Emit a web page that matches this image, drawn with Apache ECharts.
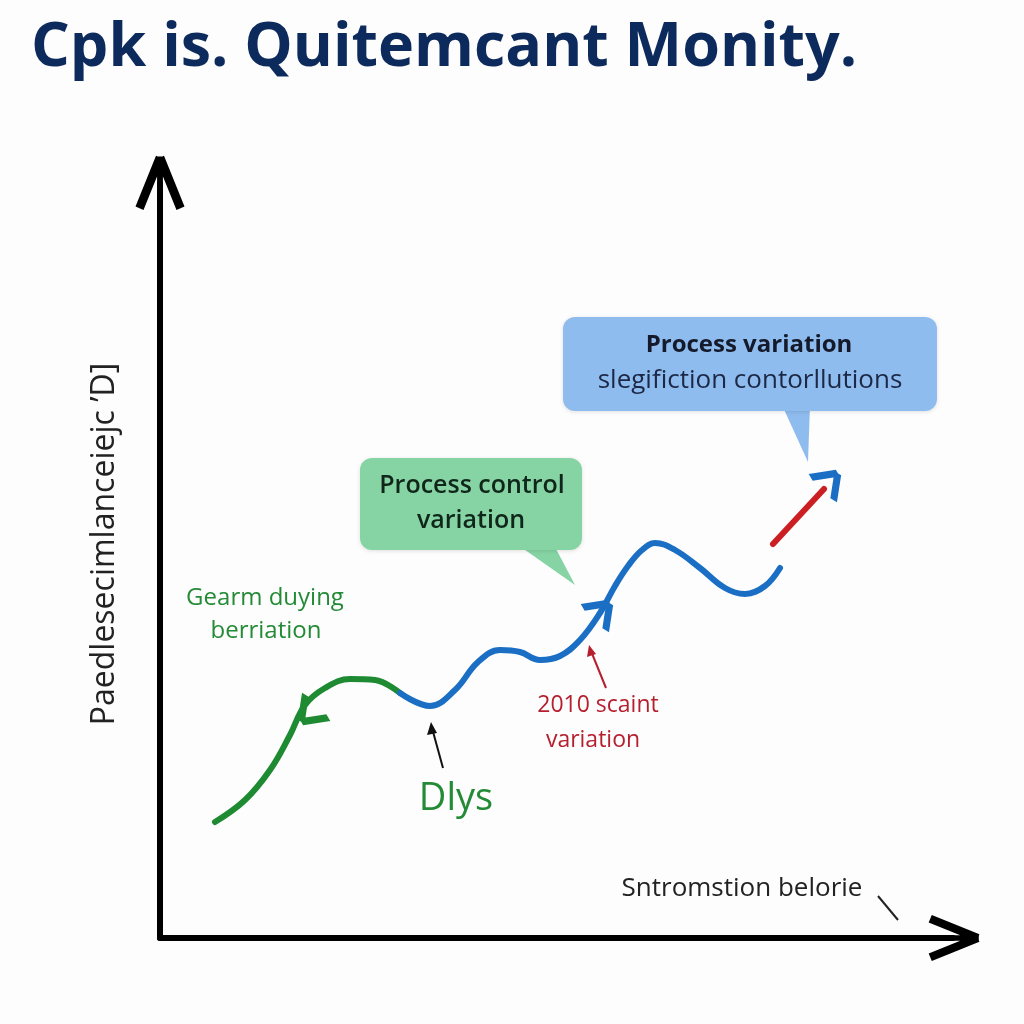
<!DOCTYPE html>
<html>
<head>
<meta charset="utf-8">
<script src="https://cdn.jsdelivr.net/npm/echarts@6/dist/echarts.min.js"></script>
<style>
  html, body { margin: 0; padding: 0; background: #fdfdfd; }
  #chart { width: 1024px; height: 1024px; }
</style>
</head>
<body>
<div id="chart"></div>
<script>
// values (x: along time axis, y: up the vertical axis)
const greenX = [55, 85, 110, 130, 145, 165, 190, 215, 240]
const greenY = [116, 138, 168, 203, 233, 250, 259, 258, 245]
const blueX = [240, 270, 295, 318, 340, 360, 380, 400, 420, 440, 455, 468, 482, 495, 515, 540, 565, 585, 605, 620]
const blueY = [245, 232, 248, 276, 288, 286, 278, 282, 298, 325, 352, 372, 388, 395, 388, 370, 350, 344, 352, 370]
const redX = [613, 664]
const redY = [394, 449]
// arrow heads along the curves: [x, y, rotation]
const heads = [
  [149, 224, 135, '#1e8a32'],
  [442, 327, -45, '#1a6ec4'],
  [670, 457, -45, '#1a6ec4']
]

const title = 'Cpk is. Quitemcant Monity.'
const yName = 'Paedlesecimlanceiejc \u2019D]'
const xNote = 'Sntromstion belorie'

const zip = (xs, ys) => xs.map((x, i) => [x, ys[i]])
// open chevron with a stem running into the tip
const axisHead = 'path://M19.9,0.3 L28.1,3.7 L7.1,55.7 L-1.1,52.3 Z' +
  ' M28.1,0.3 L49.1,52.3 L40.9,55.7 L19.9,3.7 Z' +
  ' M21,1 L27,1 L27,58 L21,58 Z'
const chevron = 'path://M19.4,0 L28.6,3.9 L8.6,50 L-0.6,46.1 Z' +
  ' M28.6,0 L48.6,46.1 L39.4,50 L19.4,3.9 Z'

const chart = echarts.init(document.getElementById('chart'))

const option = {
  backgroundColor: '#fdfdfd',
  animation: false,
  grid: { left: 160, right: 71, top: 184, bottom: 86 },
  xAxis: {
    type: 'value',
    min: 0,
    max: 793,
    axisLabel: { show: false },
    axisTick: { show: false },
    splitLine: { show: false },
    axisLine: {
      onZero: false,
      symbol: ['none', axisHead],
      symbolSize: [46, 61],
      lineStyle: { color: '#000', width: 6 }
    }
  },
  yAxis: {
    type: 'value',
    min: 0,
    max: 754,
    name: yName,
    nameLocation: 'middle',
    nameRotate: 90,
    nameGap: 39,
    nameTextStyle: { fontFamily: 'Open Sans', fontSize: 32, color: '#222', padding: [0, 0, 0, 34] },
    axisLabel: { show: false },
    axisTick: { show: false },
    splitLine: { show: false },
    axisLine: {
      show: true,
      onZero: false,
      symbol: ['none', axisHead],
      symbolSize: [49, 58],
      lineStyle: { color: '#000', width: 6 }
    }
  },
  series: [
    {
      name: 'green',
      type: 'line',
      smooth: 0.4,
      symbol: 'none',
      lineStyle: { color: '#1e8a32', width: 6, cap: 'round' },
      data: zip(greenX, greenY)
    },
    {
      name: 'blue',
      type: 'line',
      smooth: 0.4,
      symbol: 'none',
      lineStyle: { color: '#1a6ec4', width: 6, cap: 'round' },
      data: zip(blueX, blueY)
    },
    {
      name: 'red',
      type: 'line',
      symbol: 'none',
      lineStyle: { color: '#cc1f24', width: 6, cap: 'round' },
      data: zip(redX, redY)
    },
    {
      name: 'heads',
      type: 'scatter',
      symbol: chevron,
      symbolSize: [40, 24],
      itemStyle: { opacity: 1 },
      data: heads.map(h => ({
        value: [h[0], h[1]],
        symbolRotate: h[2],
        itemStyle: { color: h[3], opacity: 1 }
      }))
    }
  ],
  graphic: [
    {
      type: 'text', x: 31, y: 49,
      style: { text: title, font: 'bold 61px "Open Sans"', fill: '#0d2a5c', verticalAlign: 'middle' }
    },
    // blue callout
    {
      type: 'polygon',
      shape: { points: [[782, 405], [810, 405], [808, 462]] },
      style: { fill: '#8fbcef' }
    },
    {
      type: 'rect',
      shape: { x: 563, y: 317, width: 374, height: 94, r: 12 },
      style: { fill: '#8fbcef', shadowBlur: 4, shadowColor: 'rgba(0,0,0,0.12)', shadowOffsetY: 1 }
    },
    {
      type: 'text', x: 749, y: 345,
      style: { text: 'Process variation', font: 'bold 24px "Open Sans"', fill: '#151a2a', align: 'center', verticalAlign: 'middle' }
    },
    {
      type: 'text', x: 750, y: 381,
      style: { text: 'slegifiction contorllutions', font: '26px "Open Sans"', fill: '#1c2845', align: 'center', verticalAlign: 'middle' }
    },
    // green callout
    {
      type: 'polygon',
      shape: { points: [[518, 545], [554, 545], [575, 585]] },
      style: { fill: '#86d4a4' }
    },
    {
      type: 'rect',
      shape: { x: 360, y: 458, width: 222, height: 92, r: 12 },
      style: { fill: '#86d4a4', shadowBlur: 4, shadowColor: 'rgba(0,0,0,0.12)', shadowOffsetY: 1 }
    },
    {
      type: 'text', x: 472, y: 486,
      style: { text: 'Process control', font: '600 25px "Open Sans"', fill: '#10261a', align: 'center', verticalAlign: 'middle' }
    },
    {
      type: 'text', x: 471, y: 521,
      style: { text: 'variation', font: '600 25px "Open Sans"', fill: '#10261a', align: 'center', verticalAlign: 'middle' }
    },
    // green label
    {
      type: 'text', x: 265, y: 598,
      style: { text: 'Gearm duying', font: '24px "Open Sans"', fill: '#238a35', align: 'center', verticalAlign: 'middle' }
    },
    {
      type: 'text', x: 266, y: 631,
      style: { text: 'berriation', font: '24px "Open Sans"', fill: '#238a35', align: 'center', verticalAlign: 'middle' }
    },
    // Dlys + pointer
    {
      type: 'text', x: 456, y: 799,
      style: { text: 'Dlys', font: '38px "Open Sans"', fill: '#238a35', align: 'center', verticalAlign: 'middle' }
    },
    {
      type: 'line',
      shape: { x1: 443, y1: 768, x2: 432, y2: 728 },
      style: { stroke: '#111', lineWidth: 2 }
    },
    {
      type: 'polygon',
      shape: { points: [[431, 722], [427, 735], [437, 733]] },
      style: { fill: '#111' }
    },
    // red label + pointer
    {
      type: 'text', x: 598, y: 705,
      style: { text: '2010 scaint', font: '23px "Open Sans"', fill: '#b51f2e', align: 'center', verticalAlign: 'middle' }
    },
    {
      type: 'text', x: 593, y: 740,
      style: { text: 'variation', font: '23px "Open Sans"', fill: '#b51f2e', align: 'center', verticalAlign: 'middle' }
    },
    {
      type: 'line',
      shape: { x1: 606, y1: 688, x2: 591, y2: 651 },
      style: { stroke: '#b51f2e', lineWidth: 2 }
    },
    {
      type: 'polygon',
      shape: { points: [[589, 645], [587, 657], [596, 654]] },
      style: { fill: '#b51f2e' }
    },
    // x note
    {
      type: 'text', x: 742, y: 889,
      style: { text: xNote, font: '26px "Open Sans"', fill: '#222', align: 'center', verticalAlign: 'middle' }
    },
    {
      type: 'line',
      shape: { x1: 878, y1: 896, x2: 898, y2: 920 },
      style: { stroke: '#222', lineWidth: 2 }
    }
  ]
}

chart.setOption(option)
</script>
</body>
</html>
